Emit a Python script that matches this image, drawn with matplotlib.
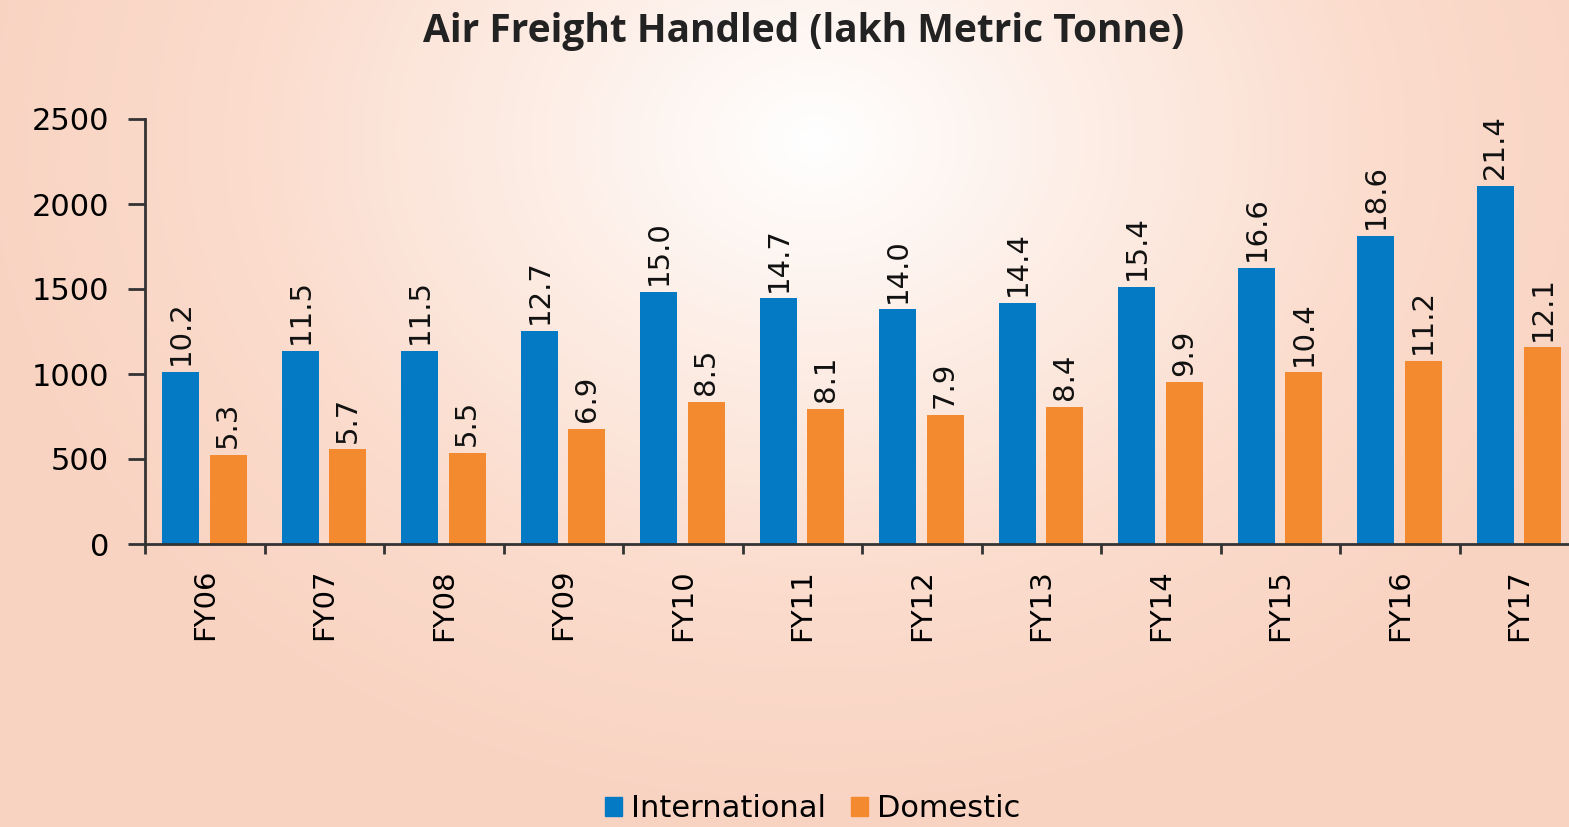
import numpy as np
import matplotlib.pyplot as plt
from matplotlib.colors import LinearSegmentedColormap
from matplotlib.patches import Patch

# data: bar heights ('000 tonnes) and the printed labels (lakh tonnes)
years = ['FY06', 'FY07', 'FY08', 'FY09', 'FY10', 'FY11',
         'FY12', 'FY13', 'FY14', 'FY15', 'FY16', 'FY17']
intl_bars = [1014, 1136, 1137, 1255, 1484, 1445, 1380, 1416, 1510, 1625, 1814, 2106]
dom_bars = [524, 557, 537, 675, 837, 794, 759, 808, 951, 1010, 1076, 1157]
intl_labels = ['10.2', '11.5', '11.5', '12.7', '15.0', '14.7', '14.0', '14.4', '15.4', '16.6', '18.6', '21.4']
dom_labels = ['5.3', '5.7', '5.5', '6.9', '8.5', '8.1', '7.9', '8.4', '9.9', '10.4', '11.2', '12.1']

blue = '#0479C4'
orange = '#F38A30'
font = 'DejaVu Sans'

fig = plt.figure(figsize=(15.69, 8.27), dpi=100)

# radial background, white near the top centre
bg = fig.add_axes([0, 0, 1, 1])
yy, xx = np.mgrid[0:827, 0:1569]
r = np.sqrt(((xx - 815) / 1000.0) ** 2 + ((yy - 140) / 800.0) ** 2)
r = np.clip(r / 0.85, 0, 1)
cmap = LinearSegmentedColormap.from_list('bg', ['#FFFFFF', '#FDEDE5', '#FBDCCD', '#F9D3C2'])
bg.imshow(r, cmap=cmap, aspect='auto', extent=[0, 1, 0, 1], origin='upper')
bg.axis('off')

ax = fig.add_axes([145 / 1569, (827 - 544) / 827, 1434 / 1569, 425 / 827])
ax.patch.set_alpha(0)

x = np.arange(len(years))
w = 0.31
ax.bar(x + 0.5 - 0.2, intl_bars, w, color=blue)
ax.bar(x + 0.5 + 0.195, dom_bars, w, color=orange)

for i in range(len(years)):
    ax.text(x[i] + 0.5 - 0.2, intl_bars[i] + 40, intl_labels[i], rotation=90,
            ha='center', va='bottom', fontsize=21, family=font, color='#111111')
    ax.text(x[i] + 0.5 + 0.195, dom_bars[i] + 40, dom_labels[i], rotation=90,
            ha='center', va='bottom', fontsize=21, family=font, color='#111111')

ax.set_xlim(0, len(years))
ax.set_ylim(0, 2500)
ax.set_yticks([0, 500, 1000, 1500, 2000, 2500])
ax.set_xticks(np.arange(len(years) + 1))
ax.set_xticklabels([])
ax.set_xticks(x + 0.5, minor=True)
ax.set_xticklabels(years, minor=True, rotation=90, fontsize=21, family=font)
ax.tick_params(axis='x', which='minor', length=0, pad=18)
ax.tick_params(axis='x', which='major', length=7, width=2, color='#333333', direction='out')
ax.tick_params(axis='y', length=12, width=2, color='#333333', labelsize=22, pad=14)
for lab in ax.get_yticklabels():
    lab.set_family(font)
for s in ['top', 'right']:
    ax.spines[s].set_visible(False)
for s in ['left', 'bottom']:
    ax.spines[s].set_linewidth(2)
    ax.spines[s].set_color('#333333')

fig.text(0.512, 0.962, 'Air Freight Handled (lakh Metric Tonne)', ha='center', va='center',
         fontsize=28, fontweight='bold', family='Open Sans', color='#222222')

handles = [Patch(color=blue, label='International'), Patch(color=orange, label='Domestic')]
fig.legend(handles=handles, loc='center', bbox_to_anchor=(0.518, 0.022), ncol=2, frameon=False,
           prop={'family': font, 'size': 22}, handlelength=0.55, handleheight=0.55,
           handletextpad=0.3, columnspacing=0.8, borderpad=0)

fig.savefig('out.png', dpi=100)
